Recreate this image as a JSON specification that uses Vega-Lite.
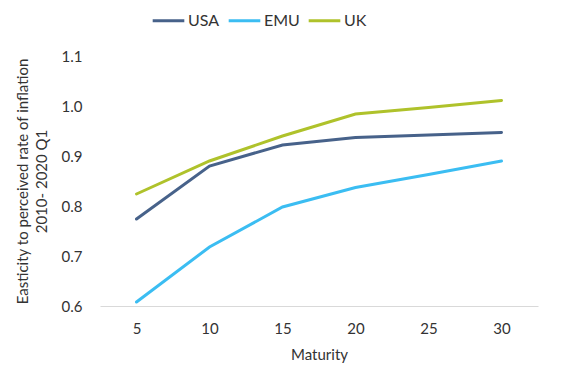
{
  "$schema": "https://vega.github.io/schema/vega-lite/v6.json",
  "width": 438,
  "height": 250,
  "autosize": {"type": "none"},
  "padding": {"left": 100, "top": 56, "right": 34, "bottom": 67},
  "background": "white",
  "config": {
    "view": {"stroke": null},
    "font": "Lato"
  },
  "data": {
    "values": [
      {"Maturity": 5, "series": "USA", "value": 0.774},
      {"Maturity": 10, "series": "USA", "value": 0.88},
      {"Maturity": 15, "series": "USA", "value": 0.922},
      {"Maturity": 20, "series": "USA", "value": 0.937},
      {"Maturity": 25, "series": "USA", "value": 0.942},
      {"Maturity": 30, "series": "USA", "value": 0.947},
      {"Maturity": 5, "series": "EMU", "value": 0.608},
      {"Maturity": 10, "series": "EMU", "value": 0.718},
      {"Maturity": 15, "series": "EMU", "value": 0.798},
      {"Maturity": 20, "series": "EMU", "value": 0.837},
      {"Maturity": 25, "series": "EMU", "value": 0.863},
      {"Maturity": 30, "series": "EMU", "value": 0.89},
      {"Maturity": 5, "series": "UK", "value": 0.824},
      {"Maturity": 10, "series": "UK", "value": 0.89},
      {"Maturity": 15, "series": "UK", "value": 0.94},
      {"Maturity": 20, "series": "UK", "value": 0.984},
      {"Maturity": 25, "series": "UK", "value": 0.997},
      {"Maturity": 30, "series": "UK", "value": 1.011}
    ]
  },
  "mark": {"type": "line", "strokeWidth": 3, "strokeCap": "round", "clip": false},
  "encoding": {
    "x": {
      "field": "Maturity",
      "type": "quantitative",
      "scale": {"domain": [2.5, 32.5], "nice": false, "zero": false},
      "axis": {
        "values": [5, 10, 15, 20, 25, 30],
        "grid": false,
        "ticks": false,
        "domainColor": "#d9d9d9",
        "domainWidth": 1,
        "labelFontSize": 15,
        "labelColor": "#333333",
        "labelPadding": 15,
        "title": "Maturity",
        "titleFontSize": 15,
        "titleFontWeight": "normal",
        "titleColor": "#333333",
        "titlePadding": 11
      }
    },
    "y": {
      "field": "value",
      "type": "quantitative",
      "scale": {"domain": [0.6, 1.1], "nice": false, "zero": false},
      "axis": {
        "values": [0.6, 0.7, 0.8, 0.9, 1.0, 1.1],
        "format": ".1f",
        "grid": false,
        "ticks": false,
        "domain": false,
        "labelFontSize": 15,
        "labelColor": "#333333",
        "labelPadding": 18,
        "title": ["Easticity to perceived rate of inflation", "2010- 2020 Q1"],
        "titleFontSize": 15,
        "titleFontWeight": "normal",
        "titleColor": "#333333",
        "titlePadding": 12,
        "titleLineHeight": 19
      }
    },
    "color": {
      "field": "series",
      "type": "nominal",
      "sort": ["USA", "EMU", "UK"],
      "scale": {"domain": ["USA", "EMU", "UK"], "range": ["#47628a", "#3bbdf2", "#afc22b"]},
      "legend": {
        "title": null,
        "orient": "none",
        "direction": "horizontal",
        "legendX": 51,
        "legendY": -53,
        "symbolType": "stroke",
        "symbolStrokeWidth": 3,
        "symbolSize": 1000,
        "labelFontSize": 16,
        "labelColor": "#333333",
        "columnPadding": 2,
        "labelOffset": 2
      }
    }
  }
}
